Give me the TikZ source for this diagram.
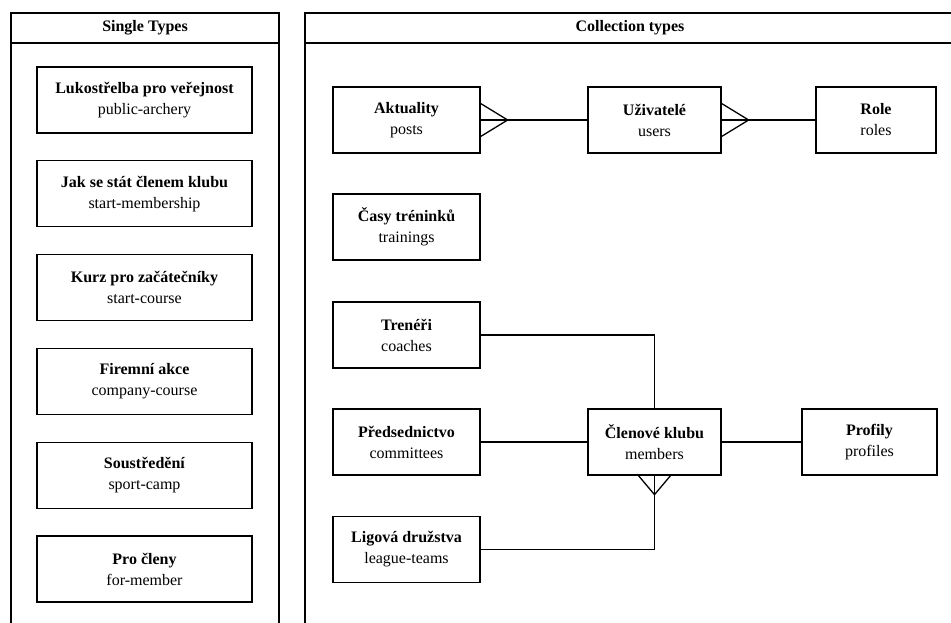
\documentclass[tikz,border=0pt]{standalone}
\usepackage{fontspec}
\setmainfont{Liberation Serif}
\usepackage{tikz}
\usetikzlibrary{
  positioning,
  calc,
}
\definecolor{edge}{HTML}{000000}
\tikzset{
  panel/.style={
    draw=edge, line width=1.3pt,
  },
  panelTitle/.style={
    font=\fontsize{16}{20}\selectfont\bfseries, inner sep=0pt,
  },
  typebox/.style={
    rectangle, draw=edge, line width=1.3pt, fill=white,
    minimum width=#1, minimum height=66pt, inner sep=2pt,
    align=center, font=\fontsize{16}{21}\selectfont,
  },
  typebox/.default=147pt,
  link/.style={
    draw=edge, line width=1.3pt,
  },
}

\begin{document}
\begin{tikzpicture}[x=1pt, y=-1pt]
\useasboundingbox (0,0) rectangle (951,623);

% panels
\draw[panel] (11,623) -- (11,13) -- (279,13) -- (279,623);
\draw[panel] (11,43) -- (279,43);
\draw[panel] (305,623) -- (305,13) -- (951,13);
\draw[panel] (305,43) -- (951,43);
\node[panelTitle] (singleTitle) at (145,28) {Single Types};
\node[panelTitle] (collTitle) at (630,28) {Collection types};

% single types
\foreach \i/\name/\api in {%
  0/Lukostřelba pro veřejnost/public-archery,%
  1/Jak se stát členem klubu/start-membership,%
  2/Kurz pro začátečníky/start-course,%
  3/Firemní akce/company-course,%
  4/Soustředění/sport-camp,%
  5/Pro členy/for-member%
}
{
  \node[typebox=215pt] (s\i) at (144.5, {100+93.8*\i}) {\textbf{\name}\\\api};
}

% collection types
\node[typebox] (posts) at (406.5,120) {\textbf{Aktuality}\\posts};
\node[typebox=133pt] (users) at (654.5,120) {\textbf{Uživatelé}\\users};
\node[typebox=120pt] (roles) at (876,120) {\textbf{Role}\\roles};
\node[typebox] (trainings) at (406.5,227) {\textbf{Časy tréninků}\\trainings};
\node[typebox] (coaches) at (406.5,335) {\textbf{Trenéři}\\coaches};
\node[typebox] (committees) at (406.5,442) {\textbf{Předsednictvo}\\committees};
\node[typebox=133pt] (members) at (654.5,442) {\textbf{Členové klubu}\\members};
\node[typebox=135pt] (profiles) at (869.5,442) {\textbf{Profily}\\profiles};
\node[typebox] (teams) at (406.5,549.5) {\textbf{Ligová družstva}\\league-teams};

\draw[link] (posts) -- (users);
\draw[link] (users) -- (roles);
\draw[link] (coaches.east) -| (members.north);
\draw[link] (committees) -- (members);
\draw[link] (members) -- (profiles);
\draw[link] (teams.east) -| (members.south);

% crow's feet
\draw[link] ([yshift=16.5pt]posts.east) -- ([xshift=27pt]posts.east) -- ([yshift=-16.5pt]posts.east);
\draw[link] ([yshift=16.5pt]users.east) -- ([xshift=27pt]users.east) -- ([yshift=-16.5pt]users.east);
\draw[link] ([xshift=-16pt]members.south) -- ([yshift=-19pt]members.south) -- ([xshift=16pt]members.south);

\end{tikzpicture}
\end{document}
